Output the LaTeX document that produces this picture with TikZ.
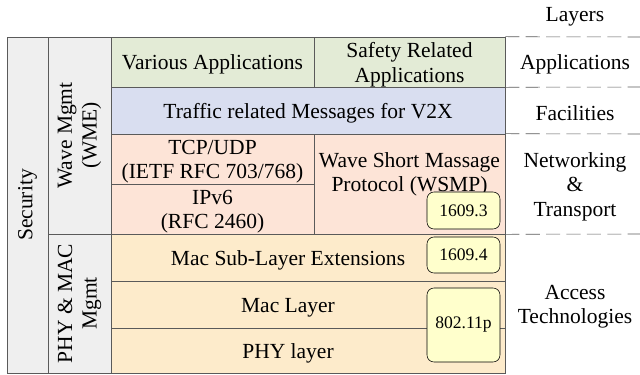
\documentclass[tikz,border=0pt]{standalone}
\usepackage{fontspec}
\setmainfont{Liberation Serif}
\definecolor{mgmt}{HTML}{EFEFEF}
\definecolor{apps}{HTML}{E3EBD6}
\definecolor{facil}{HTML}{D9DEF0}
\definecolor{netw}{HTML}{FDE4D7}
\definecolor{access}{HTML}{FDEBCB}
\definecolor{std}{HTML}{FFFFCC}
\definecolor{edge}{HTML}{5A5A5A}
\tikzset{
  cell/.style={rectangle,draw=edge,thin,inner sep=0pt},
  mgmtcell/.style={cell,fill=mgmt},
  appcell/.style={cell,fill=apps},
  faccell/.style={cell,fill=facil},
  netcell/.style={cell,fill=netw},
  acccell/.style={cell,fill=access},
  stdbox/.style={rectangle,rounded corners=5pt,draw=black,thin,fill=std,
    font=\fontsize{12.5}{15}\selectfont},
  vlabel/.style={rotate=90,align=center,font=\fontsize{15.3}{17.5}\selectfont},
  layer/.style={align=center,yshift=-2pt,font=\fontsize{15.3}{17.5}\selectfont},
  sep/.style={draw=edge,thin,dash pattern=on 10pt off 4.5pt},
}

\begin{document}
\begin{tikzpicture}[x=0.025cm,y=-0.025cm]
  \useasboundingbox (0,0) rectangle (640,375);

  % management columns
  \node [mgmtcell,minimum width=1.025cm,minimum height=8.4cm] at (27.5,205) (sec) {};
  \node [vlabel] at (sec.center) (seclabel) {Security};
  \node [mgmtcell,minimum width=1.575cm,minimum height=4.925cm] at (79.5,135.5) (wme) {};
  \node [vlabel] at (wme.center) (wmelabel) {Wave Mgmt\\(WME)};
  \node [mgmtcell,minimum width=1.575cm,minimum height=3.475cm] at (79.5,303.5) (phymac) {};
  \node [vlabel] at (phymac.center) (phymaclabel) {PHY \& MAC\\Mgmt};

  % applications
  \node [appcell,minimum width=5.075cm,minimum height=1.25cm] at (212.5,62) (various) {};
  \node [layer] at (various.center) (variouslabel) {Various Applications};
  \node [appcell,minimum width=4.775cm,minimum height=1.25cm] at (409.5,62) (safety) {};
  \node [layer] at (safety.center) (safetylabel) {Safety Related\\Applications};

  % facilities
  \node [faccell,minimum width=9.85cm,minimum height=1.175cm] at (308,110.5) (traffic) {};
  \node [layer] at (traffic.center) (trafficlabel) {Traffic related Messages for V2X};

  % networking and transport
  \node [netcell,minimum width=5.075cm,minimum height=1.25cm] at (212.5,159) (tcp) {};
  \node [layer] at (tcp.center) (tcplabel) {TCP/UDP\\(IETF RFC 703/768)};
  \node [netcell,minimum width=5.075cm,minimum height=1.25cm] at (212.5,209) (ipv6) {};
  \node [layer] at (ipv6.center) (ipv6label) {IPv6\\(RFC 2460)};
  \node [netcell,minimum width=4.775cm,minimum height=2.5cm] at (409.5,184) (wsmp) {};
  \node [layer] at (409.5,171.5) (wsmplabel) {Wave Short Massage\\Protocol (WSMP)};

  % access technologies
  \node [acccell,minimum width=9.85cm,minimum height=1.175cm] at (308,257.5) (macsub) {};
  \node [acccell,minimum width=9.85cm,minimum height=1.175cm] at (308,304.5) (mac) {};
  \node [acccell,minimum width=9.85cm,minimum height=1.125cm] at (308,350.5) (phy) {};
  \node [layer] at (288,257.5) (macsublabel) {Mac Sub-Layer Extensions};
  \node [layer] at (288,304.5) (maclabel) {Mac Layer};
  \node [layer] at (288,350.5) (phylabel) {PHY layer};

  % standards
  \node [stdbox,minimum width=1.825cm,minimum height=0.925cm] at (463.5,210.5) (s93) {1609.3};
  \node [stdbox,minimum width=1.825cm,minimum height=0.9cm] at (463.5,255) (s94) {1609.4};
  \node [stdbox,minimum width=1.825cm,minimum height=1.85cm] at (463.5,325) (s11p) {802.11p};

  % layer names
  \node [layer] at (575,14) (layers) {Layers};
  \node [layer] at (575,62) (lapp) {Applications};
  \node [layer] at (575,110.5) (lfac) {Facilities};
  \node [layer] at (575,184) (lnet) {Networking\\\&\\Transport};
  \node [layer] at (575,304) (lacc) {Access\\Technologies};

  \foreach \n/\y in {a/37,b/87,c/134,d/234}
  {
    \coordinate (end\n) at (640,\y);
  }
  \draw [sep] (safety.north east) -- (enda);
  \draw [sep] (safety.south east) -- (endb);
  \draw [sep] (wsmp.north east) -- (endc);
  \draw [sep] (wsmp.south east) -- (endd);
\end{tikzpicture}
\end{document}
